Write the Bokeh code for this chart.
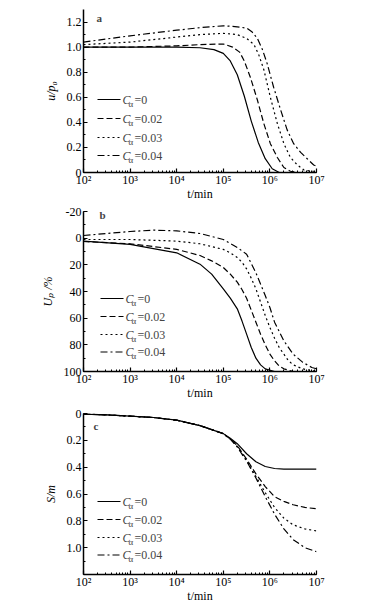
import numpy as np
from bokeh.plotting import figure
from bokeh.layouts import column
from bokeh.models import (Range1d, SingleIntervalTicker, CustomJSTickFormatter, Label, Arrow, AllLabels)
from bokeh.embed import file_html
from bokeh.resources import INLINE

# ---------------- data ----------------
x_tick_labels = ["10²", "10³", "10⁴", "10⁵", "10⁶", "10⁷"]
legend_values = ["=0", "=0.02", "=0.03", "=0.04"]

# panel a: u/p0
a_c0_logt = [2, 3, 4, 4.5, 4.8, 5.0, 5.15, 5.3, 5.45, 5.6, 5.75, 5.9, 6.05, 6.2, 6.4]
a_c0_val = [1.0, 1.0, 1.0, 0.995, 0.98, 0.95, 0.89, 0.78, 0.61, 0.41, 0.24, 0.11, 0.03, 0.0, 0.0]
a_c2_logt = [2, 3, 4, 4.5, 5.0, 5.2, 5.35, 5.45, 5.58, 5.73, 5.87, 6.01, 6.16, 6.3, 6.44, 6.6, 6.8]
a_c2_val = [1.0, 1.0, 1.01, 1.02, 1.025, 1.0, 0.96, 0.89, 0.76, 0.58, 0.39, 0.23, 0.12, 0.04, 0.01, 0.0, 0.0]
a_c3_logt = [2, 3, 4, 4.5, 5.0, 5.3, 5.5, 5.66, 5.76, 5.87, 6.01, 6.16, 6.3, 6.44, 6.59, 6.73, 6.9, 7.0]
a_c3_val = [1.02, 1.04, 1.08, 1.10, 1.11, 1.10, 1.07, 1.02, 0.94, 0.82, 0.60, 0.39, 0.23, 0.12, 0.06, 0.02, 0.01, 0.01]
a_c4_logt = [2, 3, 4, 4.5, 5.0, 5.2, 5.35, 5.51, 5.62, 5.73, 5.84, 5.94, 6.08, 6.23, 6.37, 6.51, 6.66, 6.8, 6.94, 7.0]
a_c4_val = [1.04, 1.09, 1.135, 1.155, 1.17, 1.165, 1.16, 1.15, 1.12, 1.07, 0.98, 0.87, 0.68, 0.50, 0.34, 0.23, 0.16, 0.11, 0.06, 0.05]

# panel b: Up / %
b_c0_logt = [2, 3, 4, 4.5, 4.75, 5.0, 5.15, 5.3, 5.4, 5.5, 5.6, 5.7, 5.8, 5.9, 6.1, 6.3]
b_c0_val = [2.2, 4.7, 11, 19.5, 27, 38, 45, 53, 62, 72, 82, 90, 95, 98, 100, 100]
b_c2_logt = [2, 3, 4, 4.5, 4.75, 5.0, 5.15, 5.3, 5.4, 5.5, 5.6, 5.7, 5.8, 5.9, 6.0, 6.1, 6.2, 6.3, 6.5, 6.7]
b_c2_val = [2.5, 4.2, 8.4, 13, 17, 22, 27, 33, 38.5, 45, 54, 63, 72, 80, 87, 92, 96, 98, 100, 100]
b_c3_logt = [2, 3, 4, 4.5, 5.0, 5.15, 5.3, 5.4, 5.5, 5.6, 5.7, 5.8, 5.9, 6.0, 6.1, 6.2, 6.3, 6.4, 6.5, 6.7, 7.0]
b_c3_val = [1, 1, 2.2, 4.2, 8.4, 11, 14.5, 18, 23, 30, 38, 48, 58, 67, 75, 82, 87, 92, 95, 98, 100]
b_c4_logt = [2, 3, 3.5, 4, 4.5, 5.0, 5.3, 5.5, 5.7, 5.9, 6.0, 6.1, 6.3, 6.5, 6.7, 6.9, 7.0]
b_c4_val = [-2, -5, -6, -5.5, -3.5, 1, 7, 12, 26, 43, 52, 63, 77, 87, 93, 97, 98]

# panel c: S / m
c_c0_logt = [2, 2.5, 3, 3.5, 4, 4.5, 5.0, 5.15, 5.3, 5.5, 5.7, 5.9, 6.1, 6.3, 6.6, 7.0]
c_c0_val = [0.005, 0.01, 0.02, 0.03, 0.05, 0.09, 0.15, 0.185, 0.225, 0.30, 0.36, 0.395, 0.41, 0.415, 0.415, 0.415]
c_c2_logt = [2, 2.5, 3, 3.5, 4, 4.5, 5.0, 5.15, 5.3, 5.5, 5.7, 5.9, 6.1, 6.3, 6.5, 6.75, 7.0]
c_c2_val = [0.005, 0.01, 0.02, 0.03, 0.05, 0.09, 0.15, 0.19, 0.24, 0.34, 0.45, 0.545, 0.62, 0.655, 0.68, 0.70, 0.71]
c_c3_logt = [2, 2.5, 3, 3.5, 4, 4.5, 5.0, 5.15, 5.3, 5.5, 5.7, 5.9, 6.1, 6.3, 6.5, 6.75, 7.0]
c_c3_val = [0.005, 0.01, 0.02, 0.03, 0.05, 0.09, 0.15, 0.19, 0.245, 0.35, 0.47, 0.59, 0.70, 0.78, 0.83, 0.86, 0.875]
c_c4_logt = [2, 2.5, 3, 3.5, 4, 4.5, 5.0, 5.15, 5.3, 5.5, 5.7, 5.9, 6.1, 6.3, 6.5, 6.75, 7.0]
c_c4_val = [0.005, 0.01, 0.02, 0.03, 0.05, 0.09, 0.15, 0.19, 0.25, 0.355, 0.48, 0.62, 0.75, 0.86, 0.94, 1.0, 1.03]

FONT = "Liberation Serif"
DASHES = ["solid", "6 3", "2 3", "7 3 2 3"]
BOTTOM = 32


def make_fig(height, top, y_range, y_top, interval, ylabel, ylab_fmt, letter,
             letter_pos, rows, leg_dx, curves):
    p = figure(width=370, height=height, x_axis_type="log",
               x_range=Range1d(1e2, 1e7), y_range=y_range,
               output_backend="svg", toolbar_location=None,
               min_border_left=83, min_border_right=54,
               min_border_top=top, min_border_bottom=BOTTOM)
    p.outline_line_color = None
    p.grid.visible = False
    p.background_fill_color = "white"

    xa = p.xaxis[0]
    xa.formatter = CustomJSTickFormatter(args=dict(labels=x_tick_labels),
                                         code="return labels[Math.round(Math.log10(tick)) - 2];")
    xa.axis_label = "t/min"
    ya = p.yaxis[0]
    ya.ticker = SingleIntervalTicker(interval=interval, num_minor_ticks=2)
    ya.formatter = CustomJSTickFormatter(code=ylab_fmt)
    ya.axis_label = ylabel
    for ax in (xa, ya):
        ax.axis_line_width = 1.5
        ax.axis_line_color = "black"
        ax.major_tick_in = 4
        ax.major_tick_out = 0
        ax.minor_tick_in = 2
        ax.minor_tick_out = 0
        ax.major_tick_line_width = 1.2
        ax.major_label_text_font = FONT
        ax.major_label_text_font_size = "12px"
        ax.major_label_text_color = "black"
        ax.major_label_policy = AllLabels()
        ax.axis_label_text_font = FONT
        ax.axis_label_text_font_size = "12px"
        ax.axis_label_text_color = "black"
    xa.major_label_standoff = 0
    xa.axis_label_standoff = -3
    xa.axis_label_text_font_style = "normal"
    ya.major_label_standoff = 2
    ya.axis_label_text_font_style = "italic"
    ya.axis_label_standoff = 6

    for (lt, vals), dash in zip(curves, DASHES):
        p.line(10 ** np.array(lt, dtype=float), vals, line_color="black",
               line_width=1.2, line_dash=dash)

    # panel letter
    p.add_layout(Label(x=letter_pos[0], y=y_top, x_units="screen", y_units="data", text=letter,
                       text_font=FONT, text_font_style="bold", text_font_size="11px",
                       text_baseline="top", y_offset=letter_pos[1]))

    # legend (manual, with subscript alpha)
    for i, (r, lab) in enumerate(zip(rows, legend_values)):
        x0 = 14 + leg_dx
        p.add_layout(Arrow(end=None, start=None, x_start=x0, y_start=r, x_end=x0 + 23, y_end=r,
                           start_units="screen", end_units="screen",
                           line_color="black", line_width=1.2, line_dash=DASHES[i]))
        p.add_layout(Label(x=x0 + 25, y=r, x_units="screen", y_units="screen", text="C",
                           text_font=FONT, text_font_style="italic", text_font_size="12px",
                           text_baseline="middle"))
        p.add_layout(Label(x=x0 + 31, y=r - 4, x_units="screen", y_units="screen", text="α",
                           text_font=FONT, text_font_size="9px", text_baseline="middle"))
        p.add_layout(Label(x=x0 + 37, y=r, x_units="screen", y_units="screen", text=lab,
                           text_font=FONT, text_font_size="12px", text_baseline="middle"))
    return p


fmt_dec = "return tick === 0 ? '0' : tick.toFixed(1);"
fmt_int = "return tick.toFixed(0);"

pa = make_fig(204, 9, Range1d(0, 1.3), 1.3, 0.2, "u/p₀", fmt_dec, "a", (13, -2),
              [73, 54, 35, 17], 0,
              [(a_c0_logt, a_c0_val), (a_c2_logt, a_c2_val), (a_c3_logt, a_c3_val), (a_c4_logt, a_c4_val)])
pb = make_fig(199, 7, Range1d(100, -20), -20, 20, "Uₚ /%", fmt_int, "b", (16, 3),
              [73, 55, 37, 19.5], 3,
              [(b_c0_logt, b_c0_val), (b_c2_logt, b_c2_val), (b_c3_logt, b_c3_val), (b_c4_logt, b_c4_val)])
pc = make_fig(203, 10, Range1d(1.2, 0), 0, 0.2, "S/m", fmt_dec, "c", (10, -6),
              [73, 55, 37, 19.5], 0,
              [(c_c0_logt, c_c0_val), (c_c2_logt, c_c2_val), (c_c3_logt, c_c3_val), (c_c4_logt, c_c4_val)])

layout = column(pa, pb, pc, spacing=0)
open("out.html", "w").write(file_html(layout, INLINE))
